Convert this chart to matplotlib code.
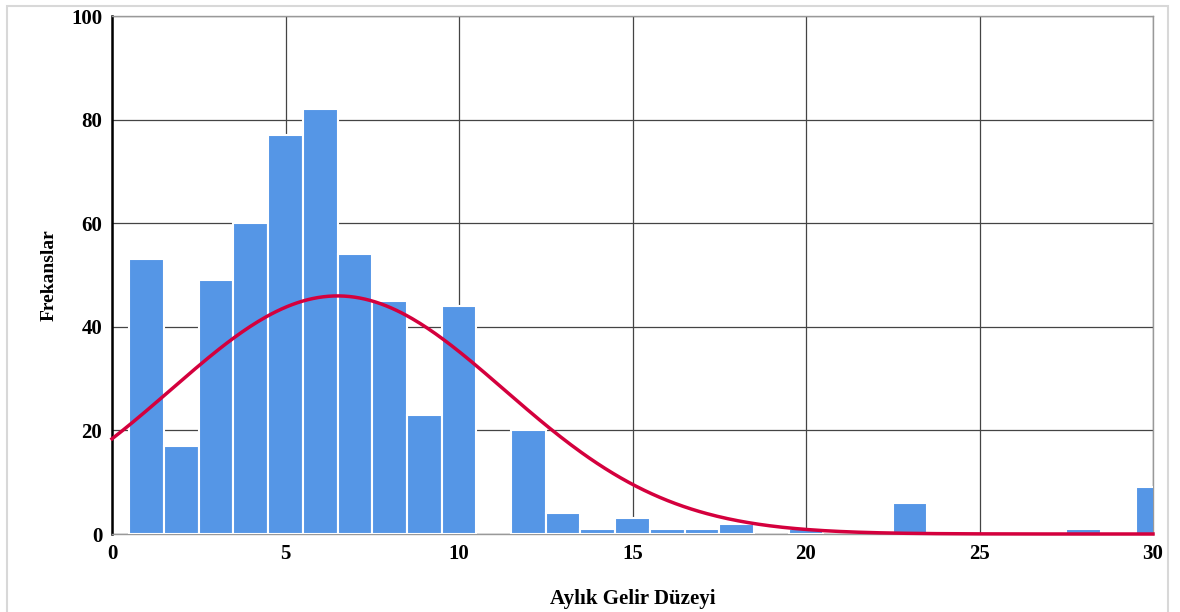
import numpy as np
import matplotlib.pyplot as plt
from matplotlib.patches import Rectangle

# Histogram data (bin centres, counts)
income = [1, 2, 3, 4, 5, 6, 7, 8, 9, 10, 12, 13, 14, 15, 16, 17, 18, 20, 23, 28, 30]
counts = [53, 17, 49, 60, 77, 82, 54, 45, 23, 44, 20, 4, 1, 3, 1, 1, 2, 1, 6, 1, 9]

# fitted normal curve parameters
mu = 6.5
sigma = 4.8
n_total = sum(counts)

plt.rcParams["font.family"] = ["Liberation Serif", "DejaVu Serif"]
plt.rcParams["font.weight"] = "bold"

fig = plt.figure(figsize=(11.8, 6.12), dpi=100)
ax = fig.add_axes([112 / 1180, 1 - 534 / 612, (1153 - 112) / 1180, (534 - 16) / 612])

ax.bar(income, counts, width=1.0, color="#5596E6", edgecolor="white",
       linewidth=1.5, zorder=3)

xs = np.linspace(0, 30, 400)
ys = n_total / (sigma * np.sqrt(2 * np.pi)) * np.exp(-(xs - mu) ** 2 / (2 * sigma ** 2))
ax.plot(xs, ys, color="#D4003D", linewidth=2.5, zorder=4, clip_on=False)

ax.set_xlim(0, 30)
ax.set_ylim(0, 100)
ax.set_xticks(range(0, 31, 5))
ax.set_yticks(range(0, 101, 20))
ax.grid(True, color="#444444", linewidth=0.9, zorder=0)
ax.tick_params(length=0, labelsize=15, pad=7)
for lbl in ax.get_xticklabels() + ax.get_yticklabels():
    lbl.set_fontweight("bold")

ax.spines["left"].set_color("black")
ax.spines["left"].set_linewidth(1.8)
for s in ["top", "right", "bottom"]:
    ax.spines[s].set_color("#999999")
    ax.spines[s].set_linewidth(1.0)

ax.set_xlabel("Aylık Gelir Düzeyi", fontsize=15, fontweight="bold", labelpad=18)
ax.set_ylabel("Frekanslar", fontsize=14, fontweight="bold", labelpad=10)

fig.patches.append(Rectangle((7 / 1180, -0.01), (1168 - 7) / 1180, 1 - 6 / 612 + 0.01,
                             transform=fig.transFigure, fill=False,
                             edgecolor="#D8D8D8", linewidth=1.5))

fig.savefig("out.png", dpi=100)
